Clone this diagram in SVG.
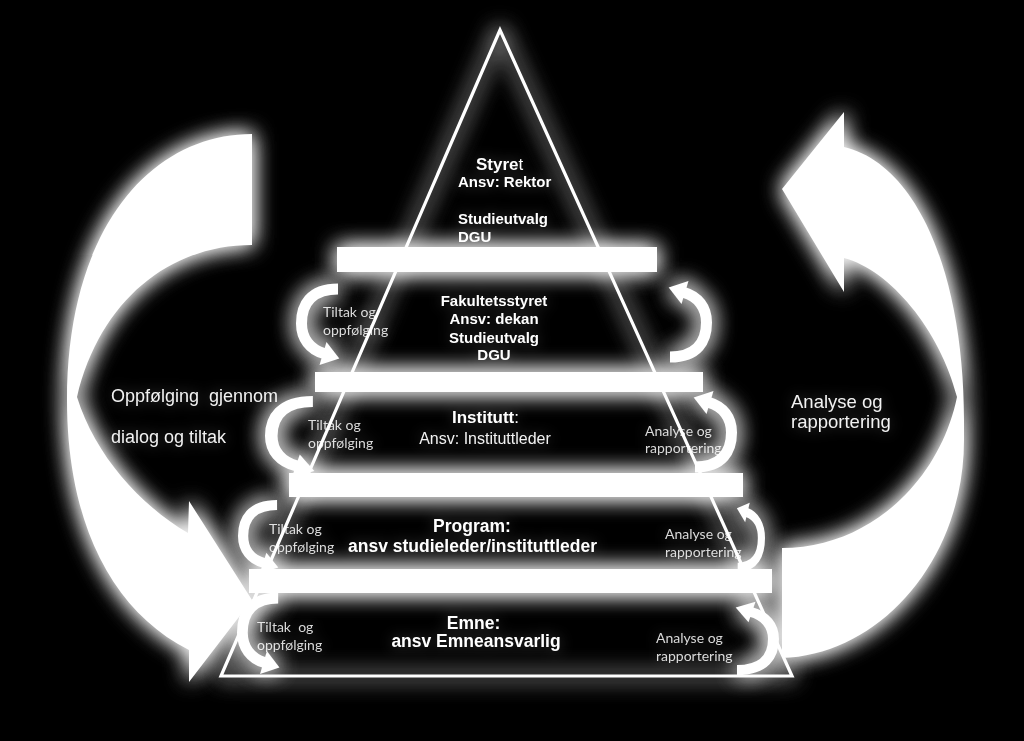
<svg xmlns="http://www.w3.org/2000/svg" xmlns:xlink="http://www.w3.org/1999/xlink" width="1024" height="741" viewBox="0 0 1024 741">
<style>
.title{font-family:"Liberation Sans",Arial,sans-serif;font-weight:bold;fill:#ffffff}
.reg{font-family:"Liberation Sans",Arial,sans-serif;fill:#f2f2f2}
.small{font-family:Lato,"Open Sans","Liberation Sans",sans-serif;font-size:14px;fill:#d9d9d9}
.big{font-family:"Liberation Sans",Arial,sans-serif;font-size:18px;fill:#f2f2f2}
.bar{fill:#ffffff}
.tri{fill:none;stroke:#ffffff;stroke-width:3.2;stroke-linejoin:miter}
.band{fill:none;stroke:#ffffff;stroke-width:11;stroke-linecap:butt}
</style>
<defs>
<filter id="glow" x="-30%" y="-30%" width="160%" height="160%">
<feGaussianBlur in="SourceAlpha" stdDeviation="11" result="b"/>
<feFlood flood-color="#ffffff" flood-opacity="0.9"/>
<feComposite in2="b" operator="in" result="g"/>
<feMerge><feMergeNode in="g"/><feMergeNode in="g"/><feMergeNode in="SourceGraphic"/></feMerge>
</filter>
<filter id="tglow" x="-20%" y="-40%" width="140%" height="180%">
<feGaussianBlur in="SourceAlpha" stdDeviation="7" result="b"/>
<feFlood flood-color="#ffffff" flood-opacity="0.25"/>
<feComposite in2="b" operator="in" result="g"/>
<feMerge><feMergeNode in="g"/><feMergeNode in="SourceGraphic"/></feMerge>
</filter>
<g id="sa">
<path class="band" d="M42,5.5 C14,5.5 5.5,22 5.5,40 C5.5,55 14,66 28,70"/>
<polygon fill="#ffffff" points="23.5,81.5 43.3,75 30.5,58.5"/>
</g>
</defs>
<rect x="0" y="0" width="1024" height="741" fill="#000000"/>

<g id="big-arrow-left" filter="url(#glow)">
<path fill="#ffffff" d="M252,134 C150,134 67,230 67,400 C67,520 110,610 189,650 L189,682 L252,600 L189,501 L188,533 C140,505 95,455 77,397 C100,300 170,245 252,245 Z"/>
</g>
<g id="big-arrow-right" filter="url(#glow)">
<path fill="#ffffff" d="M782,658 C880,655 964,560 964,440 L964,420 C964,280 920,165 844,147 L844,112 L782,189 L844,292 L844,258 C890,270 940,330 957,397 C940,480 870,548 782,548 Z"/>
</g>

<g id="label-left" filter="url(#tglow)">
<text class="big" x="111" y="402" xml:space="preserve">Oppfølging  gjennom</text>
<text class="big" x="111" y="443">dialog og tiltak</text>
</g>
<g id="label-right" filter="url(#tglow)">
<text class="big" x="791" y="408" style="font-size:18.5px">Analyse og</text>
<text class="big" x="791" y="428" style="font-size:18.5px">rapportering</text>
</g>

<g id="small-labels" filter="url(#tglow)">
<text class="small" x="323" y="317">Tiltak og</text>
<text class="small" x="323" y="335">oppfølging</text>
<text class="small" x="308" y="430">Tiltak og</text>
<text class="small" x="308" y="448">oppfølging</text>
<text class="small" x="645" y="436">Analyse og</text>
<text class="small" x="645" y="453">rapportering</text>
<text class="small" x="269" y="534">Tiltak og</text>
<text class="small" x="269" y="552">oppfølging</text>
<text class="small" x="665" y="539">Analyse og</text>
<text class="small" x="665" y="557">rapportering</text>
<text class="small" x="257" y="632" xml:space="preserve">Tiltak  og</text>
<text class="small" x="257" y="650">oppfølging</text>
<text class="small" x="656" y="643">Analyse og</text>
<text class="small" x="656" y="661">rapportering</text>
</g>

<g id="connectors" filter="url(#glow)">
<use xlink:href="#sa" href="#sa" transform="translate(296,283.5)"/>
<use xlink:href="#sa" href="#sa" transform="translate(265,396) scale(1.14,1)"/>
<use xlink:href="#sa" href="#sa" transform="translate(238,500) scale(0.93,0.9)"/>
<use xlink:href="#sa" href="#sa" transform="translate(237,592.5) scale(0.98,1)"/>
<use xlink:href="#sa" href="#sa" transform="translate(712,362.5) rotate(180)"/>
<use xlink:href="#sa" href="#sa" transform="translate(737,472.5) rotate(180)"/>
<use xlink:href="#sa" href="#sa" transform="translate(765,572) rotate(180) scale(0.65,0.85)"/>
<use xlink:href="#sa" href="#sa" transform="translate(779,675) rotate(180) scale(1,0.9)"/>
</g>

<g id="pyramid" filter="url(#glow)">
<polygon class="tri" points="500,30 221,676 792,676"/>
</g>
<g id="bars" filter="url(#glow)">
<rect class="bar" x="337" y="247" width="320" height="25"/>
<rect class="bar" x="315" y="372" width="388" height="20"/>
<rect class="bar" x="289" y="473" width="454" height="24"/>
<rect class="bar" x="249" y="569" width="523" height="24"/>
</g>

<g id="node-styret" filter="url(#tglow)">
<text class="title" x="476" y="170" style="font-size:17px">Styre<tspan font-weight="normal">t</tspan></text>
<text class="title" x="458" y="187" style="font-size:15px">Ansv: Rektor</text>
<text class="title" x="458" y="224" style="font-size:15px">Studieutvalg</text>
<text class="title" x="458" y="242" style="font-size:15px">DGU</text>
</g>
<g id="node-fakultet" filter="url(#tglow)">
<text class="title" x="494" y="306" text-anchor="middle" style="font-size:15px">Fakultetsstyret</text>
<text class="title" x="494" y="324" text-anchor="middle" style="font-size:15px">Ansv: dekan</text>
<text class="title" x="494" y="343" text-anchor="middle" style="font-size:15px">Studieutvalg</text>
<text class="title" x="494" y="360" text-anchor="middle" style="font-size:15px">DGU</text>
</g>
<g id="node-institutt" filter="url(#tglow)">
<text class="title" x="485.5" y="423" text-anchor="middle" style="font-size:17px">Institutt<tspan font-weight="normal">:</tspan></text>
<text class="reg" x="485" y="444" text-anchor="middle" style="font-size:16px">Ansv: Instituttleder</text>
</g>
<g id="node-program" filter="url(#tglow)">
<text class="title" x="472" y="532" text-anchor="middle" style="font-size:17.5px">Program:</text>
<text class="title" x="472.5" y="552" text-anchor="middle" style="font-size:17.5px">ansv studieleder/instituttleder</text>
</g>
<g id="node-emne" filter="url(#tglow)">
<text class="title" x="473.5" y="629" text-anchor="middle" style="font-size:17.5px">Emne:</text>
<text class="title" x="476" y="647" text-anchor="middle" style="font-size:17.5px">ansv Emneansvarlig</text>
</g>
</svg>
